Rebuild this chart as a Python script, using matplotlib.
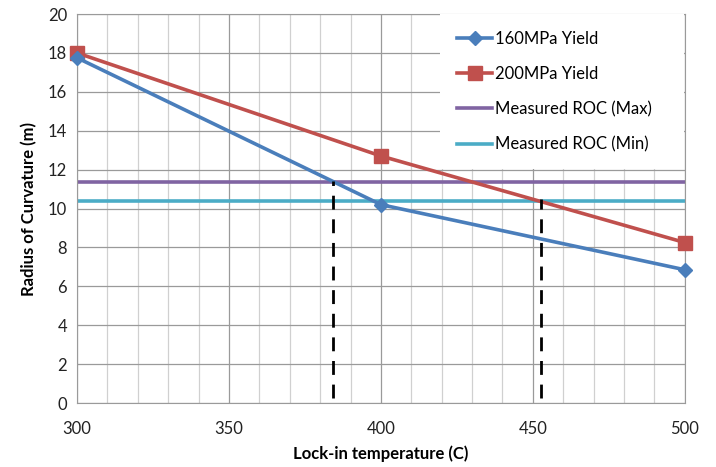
import matplotlib.pyplot as plt
from matplotlib.ticker import MultipleLocator

plt.rcParams['font.family'] = ['Lato', 'DejaVu Sans']

temps = [300, 400, 500]
yield_160 = [17.75, 10.2, 6.85]
yield_200 = [18.0, 12.7, 8.25]
roc_max = 11.38
roc_min = 10.38
# lock-in temperatures where each yield curve meets a measured ROC
cross_temps = [384.3, 452.6]
cross_tops = [11.4, 10.5]

fig = plt.figure(figsize=(7.16, 4.67), dpi=100)
ax = fig.add_axes([0.1075, 0.137, 0.849, 0.833])

ax.set_xlim(300, 500)
ax.set_ylim(0, 20)
ax.xaxis.set_major_locator(MultipleLocator(50))
ax.xaxis.set_minor_locator(MultipleLocator(10))
ax.yaxis.set_major_locator(MultipleLocator(2))
ax.grid(which='major', color='#9a9a9a', lw=0.9)
ax.grid(which='minor', axis='x', color='#d0d0d0', lw=0.9)
ax.set_axisbelow(True)
for s in ax.spines.values():
    s.set_color('#9a9a9a')
ax.tick_params(which='both', length=0, labelsize=12, colors='#222222', pad=7)
ax.tick_params(axis='x', pad=13)

l1, = ax.plot(temps, yield_160, color='#4a7ebb', lw=2.6, marker='D', ms=7,
              label='160MPa Yield', clip_on=False, zorder=4)
l2, = ax.plot(temps, yield_200, color='#c0504d', lw=2.6, marker='s', ms=10,
              label='200MPa Yield', clip_on=False, zorder=3)
l3 = ax.axhline(roc_max, color='#8064a2', lw=2.6, label='Measured ROC (Max)', zorder=2)
l4 = ax.axhline(roc_min, color='#4bacc6', lw=2.6, label='Measured ROC (Min)', zorder=2)
for t, top in zip(cross_temps, cross_tops):
    ax.plot([t, t], [0.25, top], color='black', lw=2, ls=(0, (5, 3.5)), zorder=5)

ax.set_xlabel('Lock-in temperature (C)', fontsize=12, fontweight='bold', labelpad=6)
ax.set_ylabel('Radius of Curvature (m)', fontsize=12, fontweight='bold', labelpad=8)

leg = ax.legend(handles=[l1, l2, l3, l4], loc='upper left',
                bbox_to_anchor=(0.598, 1.0, 0.401, 0.0), mode='expand',
                frameon=True, fancybox=False, edgecolor='white', framealpha=1,
                fontsize=12, handlelength=2.1, handletextpad=0.15, labelspacing=1.15,
                borderpad=1.0, borderaxespad=0.0)
leg.get_frame().set_linewidth(0)
leg.set_zorder(6)

fig.savefig('out.png', dpi=100)
